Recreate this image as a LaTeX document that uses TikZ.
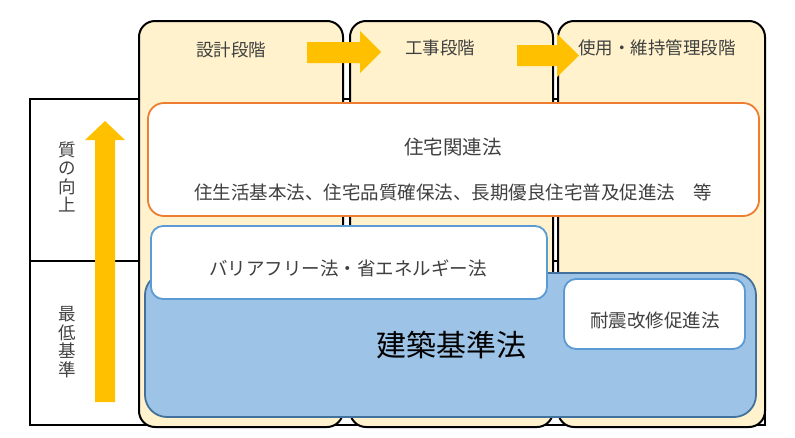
\documentclass[tikz,border=0pt]{standalone}
\usepackage{fontspec}
\setmainfont{Noto Sans CJK JP}
\usetikzlibrary{positioning}
\definecolor{stagefill}{HTML}{FFF2CC}
\definecolor{arrowgold}{HTML}{FFC000}
\definecolor{houseline}{HTML}{ED7D31}
\definecolor{lawline}{HTML}{5B9BD5}
\definecolor{basefill}{HTML}{9DC3E6}
\definecolor{baseline}{HTML}{41719C}
\definecolor{textgray}{HTML}{404040}
\begin{document}
\begin{tikzpicture}[
	x = 1pt, y = -1pt,
	every node/.style = {inner sep = 0pt, outer sep = 0pt},
	txt/.style = {text = textgray, font = \fontsize{17.5}{18.5}\selectfont},
	vtxt/.style = {txt, align = center},
	frame/.style = {draw = black, line width = 2.6pt},
	stagebox/.style = {draw = black, line width = 2pt, fill = stagefill,
		rounded corners = 16pt, minimum height = 406pt},
	houselaw/.style = {draw = houseline, line width = 1.8pt, fill = white,
		rounded corners = 16pt},
	sublaw/.style = {draw = lawline, line width = 1.8pt, fill = white,
		rounded corners = 12pt},
	baselaw/.style = {draw = baseline, line width = 1.8pt, fill = basefill,
		rounded corners = 22pt},
	goldarrow/.style = {fill = arrowgold}
	]
	
	% frame behind the stages
	\draw[frame] (30,99) rectangle (765,425);
	\draw[frame] (30,261) -- (765,261);
	
	% stages
	\node[stagebox, minimum width = 204pt] (design)  at (241,224) {};
	\node[stagebox, minimum width = 203pt] (build)   at (451.5,224) {};
	\node[stagebox, minimum width = 207pt] (operate) at (661.5,224) {};
	
	\node[txt] (designlbl)  at (231,50) {設計段階};
	\node[txt] (buildlbl)   at (440,48) {工事段階};
	\node[txt] (operatelbl) at (657,48) {使用・維持管理段階};
	
	% stage arrows
	\fill[goldarrow] (307,42) -- (360,42) -- (360,31) -- (381,52)
		-- (360,73) -- (360,63) -- (307,63) -- cycle;
	\fill[goldarrow] (517,45) -- (557,45) -- (557,34) -- (579,55.5)
		-- (557,77) -- (557,66) -- (517,66) -- cycle;
	
	% level labels
	\node[vtxt] (quality) at (67,177) {質\\の\\向\\上};
	\node[vtxt] (minimum) at (67,342) {最\\低\\基\\準};
	
	% quality arrow
	\fill[goldarrow] (95,402) -- (95,140) -- (85,140) -- (105,121)
		-- (125,140) -- (115,140) -- (115,402) -- cycle;
	
	% laws
	\node[houselaw, minimum width = 611pt, minimum height = 113pt] (housing) at (453.5,159.5) {};
	\node[txt, font = \fontsize{19.5}{20}\selectfont] (housingttl) at (453,147) {住宅関連法};
	\node[txt, font = \fontsize{18.5}{20}\selectfont, below = 45pt of housingttl.center, anchor = center] (housinglist)
		{住生活基本法、住宅品質確保法、長期優良住宅普及促進法　等};
	
	\node[baselaw, minimum width = 611pt, minimum height = 144pt] (building) at (450.5,345) {};
	\node[sublaw, minimum width = 396pt, minimum height = 73pt] (barrier) at (349,262.5) {};
	\node[txt, font = \fontsize{18.5}{20}\selectfont] (barrierttl) at (348,268) {バリアフリー法・省エネルギー法};
	\node[txt, text = black, font = \fontsize{30}{32}\selectfont] (buildingttl) at (451,345) {建築基準法};
	
	\node[sublaw, minimum width = 181pt, minimum height = 70pt] (seismic) at (654.5,314) {};
	\node[txt, font = \fontsize{18.5}{20}\selectfont] (seismicttl) at (655,320) {耐震改修促進法};
	
	\useasboundingbox (0,0) rectangle (795,437);
\end{tikzpicture}
\end{document}
